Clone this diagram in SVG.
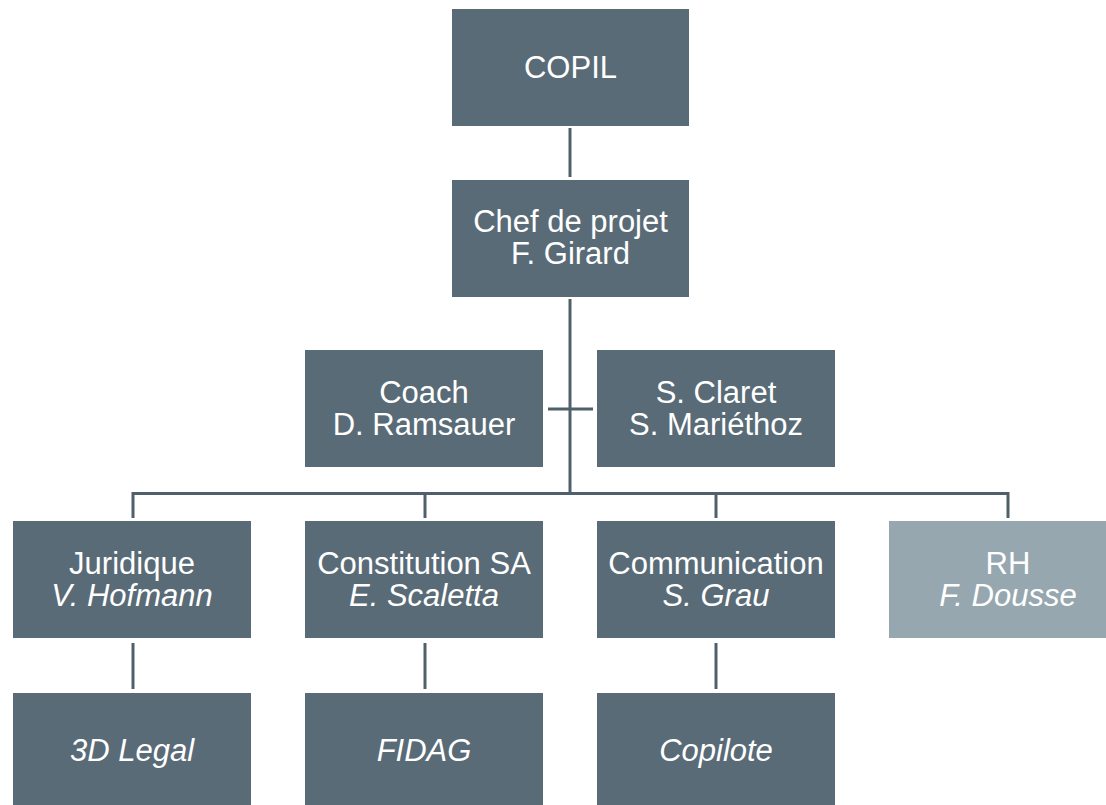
<svg xmlns="http://www.w3.org/2000/svg" width="1106" height="805" viewBox="0 0 1106 805">
<style>
.box{fill:#596b77}
.light{fill:#97a7b0}
.t{font-family:"Liberation Sans",Arial,sans-serif;font-size:31px;fill:#ffffff;text-anchor:middle}
.i{font-style:italic}
.c{stroke:#4f606b;stroke-width:3;fill:none}
</style>
<rect width="1106" height="805" fill="#ffffff"/>
<g id="connectors">
<line class="c" x1="570" y1="128" x2="570" y2="177"/>
<line class="c" x1="570" y1="299" x2="570" y2="494"/>
<line class="c" x1="548" y1="409" x2="593" y2="409"/>
<polyline class="c" points="133,518 133,493.5 1008,493.5 1008,518"/>
<line class="c" x1="425" y1="493" x2="425" y2="518"/>
<line class="c" x1="716" y1="493" x2="716" y2="518"/>
<line class="c" x1="133" y1="643" x2="133" y2="689"/>
<line class="c" x1="425" y1="643" x2="425" y2="689"/>
<line class="c" x1="716" y1="643" x2="716" y2="689"/>
</g>
<g id="copil"><rect class="box" x="452" y="9" width="237" height="117"/><text class="t" x="570.5" y="78">COPIL</text></g>
<g id="chef"><rect class="box" x="452" y="180" width="237" height="117"/><text class="t" x="570.5" y="232">Chef de projet</text><text class="t" x="570.5" y="264">F. Girard</text></g>
<g id="coach"><rect class="box" x="305" y="350" width="238" height="117"/><text class="t" x="424" y="403">Coach</text><text class="t" x="424" y="435">D. Ramsauer</text></g>
<g id="claret"><rect class="box" x="597" y="350" width="238" height="117"/><text class="t" x="716" y="403">S. Claret</text><text class="t" x="716" y="435">S. Mariéthoz</text></g>
<g id="juridique"><rect class="box" x="13" y="521" width="238" height="117"/><text class="t" x="132" y="574">Juridique</text><text class="t i" x="132" y="606">V. Hofmann</text></g>
<g id="constitution"><rect class="box" x="305" y="521" width="238" height="117"/><text class="t" x="424" y="574">Constitution SA</text><text class="t i" x="424" y="606">E. Scaletta</text></g>
<g id="communication"><rect class="box" x="597" y="521" width="238" height="117"/><text class="t" x="716" y="574">Communication</text><text class="t i" x="716" y="606">S. Grau</text></g>
<g id="rh"><rect class="light" x="889" y="521" width="238" height="117"/><text class="t" x="1008" y="574">RH</text><text class="t i" x="1008" y="606">F. Dousse</text></g>
<g id="legal"><rect class="box" x="13" y="693" width="238" height="117"/><text class="t i" x="132" y="761">3D Legal</text></g>
<g id="fidag"><rect class="box" x="305" y="693" width="238" height="117"/><text class="t i" x="424" y="761">FIDAG</text></g>
<g id="copilote"><rect class="box" x="597" y="693" width="238" height="117"/><text class="t i" x="716" y="761">Copilote</text></g>
</svg>
